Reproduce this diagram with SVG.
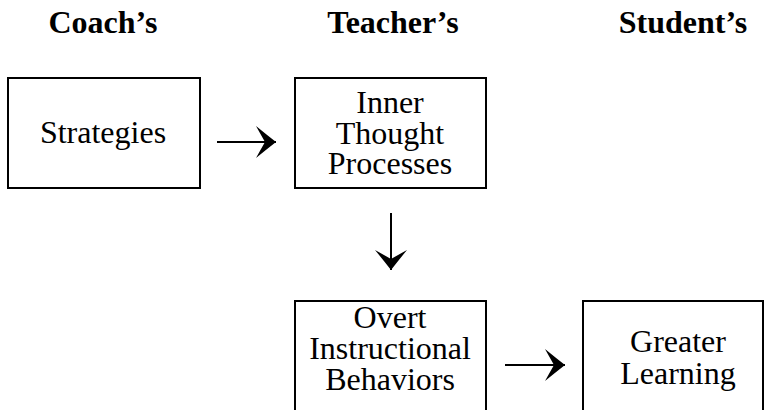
<svg xmlns="http://www.w3.org/2000/svg" width="764" height="410" viewBox="0 0 764 410">
  <style>
    .box { fill: #ffffff; stroke: #000000; stroke-width: 2; }
    .hdr { font-family: "Liberation Serif", "Times New Roman", serif; font-size: 32px; font-weight: bold; fill: #000; text-anchor: middle; }
    .lbl { font-family: "Liberation Serif", "Times New Roman", serif; font-size: 32px; fill: #000; text-anchor: middle; }
    .arr { fill: none; stroke: #000; stroke-width: 2; }
  </style>
  <defs>
    <marker id="head" markerUnits="userSpaceOnUse" viewBox="-22 -18 24 36" markerWidth="24" markerHeight="36" refX="0" refY="0" orient="auto">
      <path d="M 0,0 Q -9,-7 -20,-16 Q -15,-7 -11,0 Q -15,7 -20,16 Q -9,7 0,0 Z" fill="#000"/>
    </marker>
  </defs>
  <rect width="764" height="410" fill="#ffffff"/>

  <g id="headers">
    <text class="hdr" x="103" y="33">Coach’s</text>
    <text class="hdr" x="393" y="33">Teacher’s</text>
    <text class="hdr" x="683" y="33">Student’s</text>
  </g>

  <g id="strategies">
    <rect class="box" x="8" y="78" width="192" height="110"/>
    <text class="lbl" x="103" y="143">Strategies</text>
  </g>

  <g id="inner">
    <rect class="box" x="295" y="78" width="191" height="110"/>
    <text class="lbl" x="390" y="113">Inner</text>
    <text class="lbl" x="390" y="143.5">Thought</text>
    <text class="lbl" x="390" y="174">Processes</text>
  </g>

  <g id="overt">
    <rect class="box" x="295" y="301" width="191" height="130"/>
    <text class="lbl" x="390" y="328">Overt</text>
    <text class="lbl" x="390" y="359">Instructional</text>
    <text class="lbl" x="390" y="390">Behaviors</text>
  </g>

  <g id="greater">
    <rect class="box" x="583" y="301" width="180" height="130"/>
    <text class="lbl" x="678" y="352">Greater</text>
    <text class="lbl" x="678" y="384">Learning</text>
  </g>

  <g id="connectors">
    <line class="arr" x1="217" y1="142" x2="276" y2="142" marker-end="url(#head)"/>
    <line class="arr" x1="391" y1="213" x2="391" y2="270" marker-end="url(#head)"/>
    <line class="arr" x1="505" y1="365" x2="565" y2="365" marker-end="url(#head)"/>
  </g>
</svg>
